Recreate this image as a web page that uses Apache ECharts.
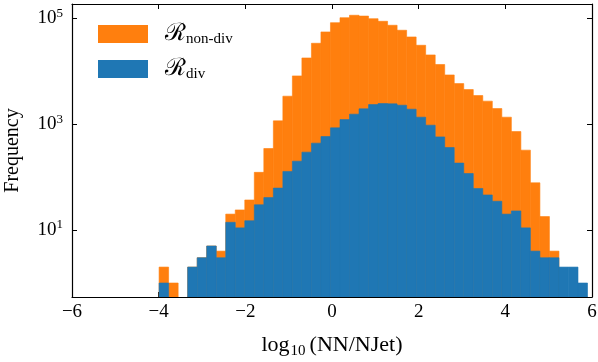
<!DOCTYPE html>
<html>
<head>
<meta charset="utf-8">
<script src="https://cdn.jsdelivr.net/npm/echarts@6/dist/echarts.min.js"></script>
<style>
  html, body { margin: 0; padding: 0; background: #fff; }
  #chart { width: 598px; height: 362px; }
</style>
</head>
<body>
<div id="chart"></div>
<script>
// histogram bins (log10 of NN/NJet ratio)
var binStart = -3.99;
var binWidth = 0.2197;

var nonDivCounts = [2, 1, 0, 2, 3, 5, 4, 20, 24, 37, 123, 347, 1154, 3375, 8150, 17800, 33700, 55200, 82600, 102600,
  114000, 110000, 98200, 87700, 73800, 59400, 44400, 30900, 20300, 13400, 8500, 5830, 4500, 3470, 2720, 1970, 1355,
  725, 323, 78, 18, 4, 0, 0, 0];
var divCounts = [1, 0, 0, 2, 3, 5, 3, 14, 11, 15, 30, 41, 62, 128, 200, 296, 438, 584, 851, 1222,
  1545, 1945, 2345, 2450, 2417, 2280, 1918, 1355, 957, 575, 362, 184, 117, 61, 46, 35, 20,
  23, 11, 4, 3, 3, 2, 2, 1];

var yTicks = [10, 1000, 100000];
var yMin = 0.544, yMax = 186000;

function toBins(counts) {
  var out = [];
  for (var i = 0; i < counts.length; i++) {
    out.push([binStart + i * binWidth, binStart + (i + 1) * binWidth, counts[i]]);
  }
  return out;
}

function renderBar(params, api) {
  var c = api.value(2);
  if (!c) return null;
  var p0 = api.coord([api.value(0), c]);
  var p1 = api.coord([api.value(1), yMin]);
  var col = api.visual("color");
  return {
    type: "rect",
    shape: { x: p0[0], y: p0[1], width: p1[0] - p0[0], height: p1[1] - p0[1] },
    style: { fill: col, stroke: col, lineWidth: 0.6 },
  };
}

var serif = "Liberation Serif";
var tickTick = { inside: true, length: 5, lineStyle: { color: "#000", width: 1 } };
var frameLine = { show: true, onZero: false, lineStyle: { color: "#000", width: 1.2 } };

var myChart = echarts.init(document.getElementById("chart"), null, { renderer: "canvas" });
var option = {
  animation: false,
  grid: { left: 72, right: 6, top: 4, bottom: 65, containLabel: false, outerBoundsMode: "none" },
  legend: {
    orient: "vertical",
    left: 93,
    top: 17,
    itemWidth: 50,
    itemHeight: 18,
    itemGap: 10,
    icon: "rect",
    data: ["nondiv", "div"],
    formatter: function (name) {
      return name === "nondiv" ? "{r|ℛ}{sub|non-div}" : "{r|ℛ}{sub|div}";
    },
    textStyle: {
      rich: {
        r: { fontFamily: "DejaVu Serif", fontSize: 24, color: "#000", padding: [0, 0, 0, 12] },
        sub: { fontFamily: serif, fontSize: 15, color: "#000", padding: [11, 0, 0, 0] },
      },
    },
  },
  xAxis: [
    {
      type: "value",
      min: -6,
      max: 6,
      interval: 2,
      name: "{b|log}{s|10}{b|(NN/NJet)}",
      nameLocation: "middle",
      nameGap: 35,
      nameTextStyle: {
        rich: {
          b: { fontFamily: serif, fontSize: 22, color: "#000" },
          s: { fontFamily: serif, fontSize: 15, color: "#000", padding: [12, 4, 0, 1] },
        },
      },
      axisLine: frameLine,
      axisTick: tickTick,
      axisLabel: {
        fontFamily: serif,
        fontSize: 19,
        color: "#000",
        margin: 6,
        formatter: function (v) { return v < 0 ? "\u2212" + Math.abs(v) : String(v); },
      },
      splitLine: { show: false },
    },
    {
      type: "value",
      position: "top",
      min: -6,
      max: 6,
      interval: 2,
      axisLine: frameLine,
      axisTick: tickTick,
      axisLabel: { show: false },
      splitLine: { show: false },
    },
  ],
  yAxis: [
    {
      type: "log",
      min: yMin,
      max: yMax,
      name: "Frequency",
      nameLocation: "middle",
      nameGap: 49,
      nameTextStyle: { fontFamily: serif, fontSize: 20, color: "#000" },
      axisLine: frameLine,
      axisTick: Object.assign({ customValues: yTicks }, tickTick),
      axisLabel: {
        customValues: yTicks,
        margin: 9,
        formatter: function (v) {
          return "{b|10}{s|" + Math.round(Math.log10(v)) + "}";
        },
        rich: {
          b: { fontFamily: serif, fontSize: 19, color: "#000" },
          s: { fontFamily: serif, fontSize: 13, color: "#000", padding: [0, 0, 10, 0] },
        },
      },
      splitLine: { show: false },
    },
    {
      type: "log",
      position: "right",
      min: yMin,
      max: yMax,
      axisLine: frameLine,
      axisTick: Object.assign({ customValues: yTicks }, tickTick),
      axisLabel: { show: false },
      splitLine: { show: false },
    },
  ],
  series: [
    {
      name: "nondiv",
      type: "custom",
      renderItem: renderBar,
      itemStyle: { color: "#ff7f0e" },
      encode: { x: [0, 1], y: 2 },
      data: toBins(nonDivCounts),
      clip: true,
    },
    {
      name: "div",
      type: "custom",
      renderItem: renderBar,
      itemStyle: { color: "#1f77b4" },
      encode: { x: [0, 1], y: 2 },
      data: toBins(divCounts),
      clip: true,
    },
  ],
};
myChart.setOption(option);
window.addEventListener("resize", function () { myChart.resize(); });
</script>
</body>
</html>
